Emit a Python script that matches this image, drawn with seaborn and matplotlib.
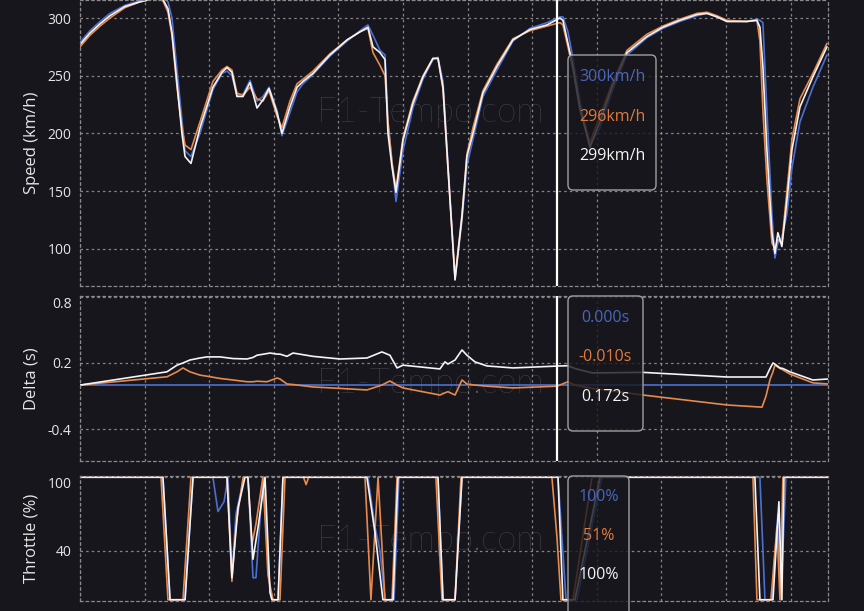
import numpy as np
import pandas as pd
import matplotlib as mpl
import matplotlib.pyplot as plt
import seaborn as sns
from matplotlib.patches import FancyBboxPatch
from matplotlib.transforms import IdentityTransform

## colores
azul = "#4d6fd1"
naranja = "#e8894d"
blanco = "#f4f4f4"
fondo = "#16161c"

## VELOCIDAD (km/h) vs distancia (m)
dist_vel = [0, 77, 155, 232, 348, 464, 580, 642, 681, 712, 751, 789, 813, 859, 929,
            1029, 1099, 1138, 1176, 1215, 1262, 1316, 1370, 1416, 1463, 1525, 1563,
            1625, 1680, 1726, 1803, 1935, 2067, 2167, 2229, 2268, 2322, 2361, 2384,
            2415, 2446, 2500, 2577, 2655, 2732, 2771, 2810, 2848, 2903, 2957, 2995,
            3042, 3119, 3228, 3351, 3483, 3615, 3715, 3738, 3777, 3816, 3870, 3947,
            4025, 4118, 4234, 4389, 4512, 4644, 4776, 4853, 4930, 5008, 5162, 5240,
            5263, 5286, 5317, 5356, 5379, 5402, 5433, 5472, 5511, 5573, 5673, 5782]
vel_blanco = [277, 287, 295, 302, 310, 314, 317, 316, 308, 287, 243, 200, 180, 174, 205,
              240, 253, 257, 253, 232, 232, 244, 222, 229, 239, 218, 200,
              223, 240, 245, 252, 268, 281, 288, 292, 275, 270, 264, 200,
              171, 149, 194, 226, 249, 265, 265, 240, 171, 73, 128, 180,
              200, 235, 258, 281, 290, 294, 300, 298, 278, 258, 222, 188,
              210, 240, 270, 284, 292, 298, 303, 304, 301, 297, 297, 298,
              292, 258, 186, 114, 96, 114, 102, 142, 186, 223, 249, 275]
vel_naranja = [275, 285, 293, 300, 309, 314, 317, 315, 305, 285, 240, 205, 190, 186, 210,
               245, 255, 258, 255, 235, 233, 240, 230, 228, 237, 215, 205,
               228, 243, 247, 254, 269, 281, 288, 291, 270, 259, 250, 210,
               175, 152, 196, 228, 250, 265, 265, 238, 170, 75, 130, 182,
               205, 237, 260, 282, 289, 293, 296, 294, 275, 255, 220, 192,
               215, 243, 272, 286, 293, 299, 304, 305, 302, 298, 297, 298,
               280, 220, 160, 105, 100, 108, 105, 150, 195, 230, 252, 278]
vel_azul = [279, 289, 297, 304, 311, 315, 318, 318, 314, 300, 255, 212, 185, 180, 200,
            238, 252, 254, 250, 233, 234, 246, 228, 232, 240, 220, 198,
            218, 236, 243, 251, 267, 280, 289, 294, 285, 272, 268, 210,
            175, 141, 185, 222, 247, 264, 266, 245, 175, 74, 125, 172,
            195, 232, 255, 280, 291, 296, 301, 301, 288, 265, 228, 190,
            205, 236, 268, 283, 291, 297, 302, 304, 301, 297, 297, 299,
            298, 296, 220, 130, 92, 105, 110, 130, 170, 210, 240, 268]

## DELTA (s)
dist_delta = [0, 673, 751, 797, 851, 929, 983, 1084, 1184, 1293, 1339, 1370, 1447, 1471,
              1525, 1548, 1602, 1649, 1803, 2012, 2221, 2337, 2399, 2454, 2500, 2786,
              2825, 2848, 2903, 2957, 2995, 3057, 3150, 3351, 3692, 3777, 3831, 3963,
              4358, 5008, 5279, 5310, 5341, 5364, 5379, 5418, 5441, 5495, 5673, 5790]
delta_blanco = [0, 0.12, 0.18, 0.2, 0.227, 0.245, 0.255, 0.255, 0.24, 0.236, 0.25, 0.27,
                0.285, 0.29, 0.28, 0.28, 0.26, 0.29, 0.26, 0.236, 0.245, 0.30, 0.27,
                0.155, 0.18, 0.146, 0.21, 0.19, 0.227, 0.318, 0.27, 0.21, 0.173, 0.155,
                0.172, 0.175, 0.15, 0.11, 0.115, 0.073, 0.073, 0.073, 0.15, 0.2, 0.19,
                0.155, 0.15, 0.12, 0.046, 0.055]
delta_naranja = [0, 0.075, 0.12, 0.155, 0.12, 0.09, 0.08, 0.06, 0.046, 0.03, 0.03, 0.035,
                 0.03, 0.04, 0.064, 0.055, 0.01, 0.005, -0.017, -0.03, -0.044, 0.0, 0.037,
                 0.0, -0.026, -0.09, -0.07, -0.06, -0.09, 0.046, 0.01, 0.0, -0.01, -0.026,
                 -0.01, 0.03, 0.0, -0.03, -0.09, -0.18, -0.2, -0.1, 0.05, 0.12, 0.18,
                 0.15, 0.137, 0.1, 0.02, 0.01]
dist_delta_azul = [0, 5790]
delta_azul = [0, 0]

## ACELERADOR (%)
dist_acel_blanco = [0, 642, 697, 813, 875, 1138, 1176, 1223, 1277, 1300, 1339, 1378, 1432,
                    1471, 1486, 1533, 1571, 2221, 2283, 2345, 2423, 2461, 2771, 2810, 2903,
                    2957, 3700, 3738, 3831, 4025, 5224, 5263, 5364, 5410, 5433, 5449, 5790]
acel_blanco = [100, 100, 0, 0, 100, 100, 18, 75, 100, 100, 33, 59, 100,
               6, 0, 0, 100, 100, 55, 0, 0, 100, 100, 0, 0,
               100, 100, 0, 0, 100, 100, 0, 0, 80, 0, 100, 100]
dist_acel_naranja = [0, 627, 681, 797, 859, 1138, 1176, 1207, 1262, 1300, 1331, 1362, 1416,
                     1455, 1494, 1548, 1587, 1730, 1750, 1770, 2206, 2252, 2307, 2361, 2415,
                     2454, 2755, 2802, 2903, 2949, 3653, 3692, 3723, 3816, 3963, 5209, 5240,
                     5348, 5395, 5418, 5441, 5790]
acel_naranja = [100, 100, 0, 0, 100, 100, 15, 60, 100, 100, 45, 62, 100,
                20, 0, 0, 100, 100, 94, 100, 100, 0, 100, 0, 0,
                100, 100, 0, 0, 100, 100, 51, 0, 0, 100, 100, 0,
                0, 60, 0, 100, 100]
dist_acel_azul = [0, 642, 697, 813, 875, 1029, 1068, 1115, 1146, 1176, 1207, 1270, 1300,
                  1339, 1362, 1416, 1471, 1486, 1533, 1571, 2229, 2283, 2322, 2361, 2431,
                  2469, 2771, 2810, 2903, 2957, 3700, 3762, 3847, 4040, 5263, 5302, 5356,
                  5402, 5425, 5464, 5790]
acel_azul = [100, 100, 0, 0, 100, 100, 72, 80, 100, 20, 70, 100, 100,
             18, 18, 100, 6, 0, 0, 100, 100, 60, 40, 0, 0,
             100, 100, 0, 0, 100, 100, 0, 0, 100, 100, 0, 0,
             70, 0, 100, 100]

## valores del cursor
cursor = 3692
txt_vel = ["300km/h", "296km/h", "299km/h"]
txt_delta = ["0.000s", "-0.010s", "0.172s"]
txt_acel = ["100%", "51%", "100%"]
colores_txt = ["#4a66bd", "#e07a3c", blanco]

sns.set_theme(style="dark")
plt.rcParams['font.family'] = ['Open Sans', 'DejaVu Sans']

W, H = 864, 611
fig = plt.figure(figsize=(W / 100, H / 100), dpi=100, facecolor=fondo)

def caja(px0, py0, px1, py1):
    # posiciones en pixeles de la imagen (y hacia abajo)
    return [px0 / W, 1 - py1 / H, (px1 - px0) / W, (py1 - py0) / H]

ax1 = fig.add_axes(caja(80, 0, 828, 286))
ax2 = fig.add_axes(caja(80, 296, 828, 461))
ax3 = fig.add_axes(caja(80, 476, 828, 601))

paneles = [
    (ax1, 0.61, [(dist_vel, vel_azul), (dist_vel, vel_naranja), (dist_vel, vel_blanco)]),
    (ax2, 0.47, [(dist_delta_azul, delta_azul), (dist_delta, delta_naranja), (dist_delta, delta_blanco)]),
    (ax3, 0.49, [(dist_acel_azul, acel_azul), (dist_acel_naranja, acel_naranja), (dist_acel_blanco, acel_blanco)]),
]

for ax, ymarca, series in paneles:
    ax.set_facecolor(fondo)
    # marca de agua
    ax.text(0.469, ymarca, "F1-Tempo.com", transform=ax.transAxes, ha="center",
            va="center", fontsize=25, color="#575763",
            family=["Lato", "DejaVu Sans"], fontweight="light", zorder=0.5)
    for (xx, yy), c in zip(series, [azul, naranja, blanco]):
        sns.lineplot(x=xx, y=yy, ax=ax, color=c, lw=1.2, sort=False,
                     estimator=None, legend=False)
    ax.set_xlim(0, 5790)
    ax.set_xticks(np.arange(0, 5790, 500))
    ax.set_xticklabels([])
    ax.grid(True, color="#9a9a9a", linestyle=(0, (2, 2.5)), lw=0.9, alpha=0.85)
    for s in ax.spines.values():
        s.set_visible(True)
        s.set_color("#8a8a8a")
        s.set_linestyle((0, (2, 2.5)))
        s.set_linewidth(0.9)
    ax.tick_params(axis="x", length=0)
    ax.tick_params(axis="y", colors="#e6e6e6", labelsize=10, length=3,
                   color="#8a8a8a", pad=3)
    ax.yaxis.set_label_coords(-0.054, 0.5)

ax1.axvline(cursor, color="white", lw=1.6, zorder=5)
ax2.axvline(cursor, color="white", lw=1.6, zorder=5)

ax1.set_ylim(67.8, 315.6)
ax1.set_yticks([100, 150, 200, 250, 300])
ax1.set_ylabel("Speed (km/h)", color="#e6e6e6", fontsize=12)

ax2.set_ylim(-0.687, 0.806)
ax2.set_yticks([-0.4, 0.2, 0.8])
ax2.set_yticklabels(["-0.4", "0.2", "0.8"])
ax2.set_ylabel("Delta (s)", color="#e6e6e6", fontsize=12)
ax2.get_yticklabels()[-1].set_va("top")

ax3.set_ylim(-1, 101)
ax3.set_yticks([40, 100])
ax3.set_ylabel("Throttle (%)", color="#e6e6e6", fontsize=12)
ax3.get_yticklabels()[-1].set_va("top")

## cajas del cursor
cajas = [((568, 55, 656, 190), txt_vel, [77, 117, 156]),
         ((568, 296, 643, 431), txt_delta, [318, 357, 397]),
         ((568, 476, 629, 625), txt_acel, [497, 536, 575])]
for (x0, y0, x1, y1), textos, ys in cajas:
    p = FancyBboxPatch((x0, H - y1), x1 - x0, y1 - y0,
                       boxstyle="round,pad=0,rounding_size=5",
                       transform=IdentityTransform(), facecolor=(0.09, 0.09, 0.11, 0.8),
                       edgecolor="#a0a0a0", lw=1.0, zorder=10)
    fig.add_artist(p)
    for t, c, yy in zip(textos, colores_txt, ys):
        fig.text((x0 + x1) / 2 / W, 1 - yy / H, t, color=c, fontsize=11.5,
                 ha="center", va="center", zorder=11)

plt.savefig("out.png", dpi=100, facecolor=fondo)
